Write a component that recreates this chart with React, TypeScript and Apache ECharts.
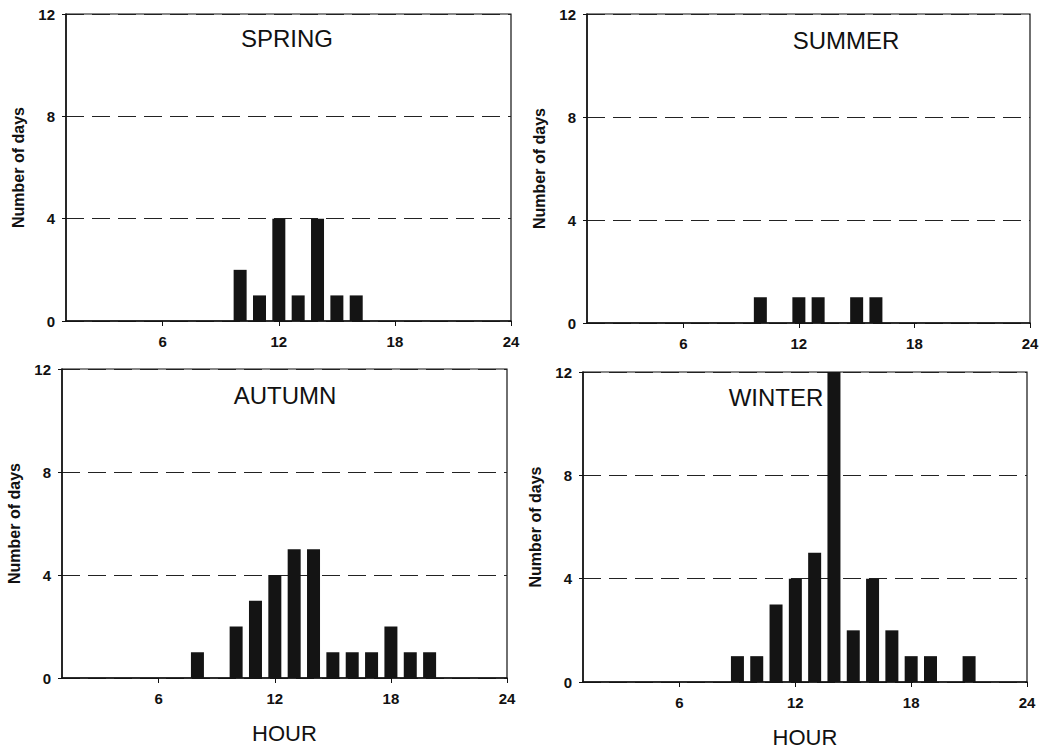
import React, { useEffect, useRef } from "react";
import * as echarts from "echarts";

const seasons = ["SPRING", "SUMMER", "AUTUMN", "WINTER"];
const springHours = [10, 11, 12, 13, 14, 15, 16];
const springDays = [2, 1, 4, 1, 4, 1, 1];
const summerHours = [10, 12, 13, 15, 16];
const summerDays = [1, 1, 1, 1, 1];
const autumnHours = [8, 10, 11, 12, 13, 14, 15, 16, 17, 18, 19, 20];
const autumnDays = [1, 2, 3, 4, 5, 5, 1, 1, 1, 2, 1, 1];
const winterHours = [9, 10, 11, 12, 13, 14, 15, 16, 17, 18, 19, 21];
const winterDays = [1, 1, 3, 4, 5, 12, 2, 4, 2, 1, 1, 1];
const xTicks = [6, 12, 18, 24];
const yTicks = [0, 4, 8, 12];

const FONT = "'Liberation Sans', Arial, sans-serif";

export default function App() {
  const ref = useRef<HTMLDivElement>(null);
  useEffect(() => {
    if (!ref.current) return;
    const chart = echarts.init(ref.current, undefined, { renderer: "svg" });
    const hours = [springHours, summerHours, autumnHours, winterHours];
    const days = [springDays, summerDays, autumnDays, winterDays];
    const grids = [
      { left: 66, top: 14, width: 445, height: 307 },
      { left: 587, top: 14, width: 443, height: 309 },
      { left: 62, top: 369, width: 445, height: 309 },
      { left: 583, top: 372, width: 444, height: 310 },
    ];
    const titlePos = [
      [287, 38],
      [846, 40],
      [285, 395],
      [776, 397],
    ];
    const option: any = {
      animation: false,
      backgroundColor: "#fff",
      grid: grids.map((g) => ({
        ...g,
        show: true,
        borderColor: "#111",
        borderWidth: 1.2,
        backgroundColor: "transparent",
        containLabel: false,
      })),
      xAxis: grids.map((g, i) => ({
        type: "value",
        gridIndex: i,
        min: 1,
        max: 24,
        name: i >= 2 ? "HOUR" : "",
        nameLocation: "middle",
        nameGap: 44,
        nameTextStyle: { fontFamily: FONT, fontSize: 22, color: "#111" },
        axisLine: { show: true, onZero: false, lineStyle: { color: "#111", width: 1.5 } },
        axisTick: { show: true, customValues: xTicks, length: 5, lineStyle: { color: "#111" } },
        axisLabel: {
          customValues: xTicks,
          fontFamily: FONT,
          fontWeight: "bold",
          fontSize: 15,
          color: "#111",
          margin: 13,
        },
        splitLine: { show: false },
      })),
      yAxis: grids.map((g, i) => ({
        type: "value",
        gridIndex: i,
        min: 0,
        max: 12,
        interval: 4,
        name: "Number of days",
        nameLocation: "middle",
        nameRotate: 90,
        nameGap: 40,
        nameTextStyle: { fontFamily: FONT, fontSize: 16, fontWeight: "bold", color: "#111" },
        axisLine: { show: true, lineStyle: { color: "#111", width: 1.5 } },
        axisTick: { show: true, length: 4, lineStyle: { color: "#111" } },
        axisLabel: {
          customValues: yTicks,
          fontFamily: FONT,
          fontWeight: "bold",
          fontSize: 15,
          color: "#111",
          margin: 11,
        },
        splitLine: { show: true, lineStyle: { type: [18, 8], color: "#222", width: 1.2 } },
      })),
      series: seasons.map((s, i) => ({
        type: "bar",
        name: s,
        xAxisIndex: i,
        yAxisIndex: i,
        barWidth: 13,
        itemStyle: { color: "#141414" },
        data: hours[i].map((h, k) => [h, days[i][k]]),
      })),
      graphic: seasons.map((s, i) => ({
        type: "text",
        x: titlePos[i][0],
        y: titlePos[i][1],
        z: 10,
        style: {
          text: s,
          fontFamily: FONT,
          fontSize: 24,
          fill: "#111",
          textAlign: "center",
          textVerticalAlign: "middle",
        },
      })),
    };
    chart.setOption(option);
    return () => chart.dispose();
  }, []);
  return (
    <div
      ref={ref}
      style={{ position: "fixed", left: 0, top: 0, width: 1045, height: 749 }}
    />
  );
}
